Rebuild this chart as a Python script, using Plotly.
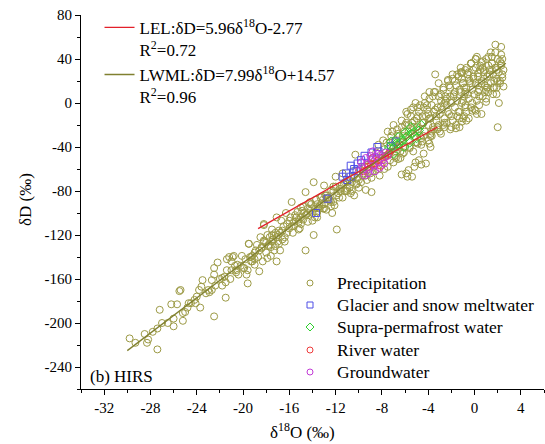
import plotly.graph_objects as go

# ---------------- data ----------------
precip_x = [
    -29.8, -28.2, -28.3, -27.4, -27.4, -27.2, -26.0, -26.2, -25.7, -25.2,
    -25.2, -24.8, -24.7, -25.4, -25.5, -24.2, -24.1, -23.8, -23.6, -23.5,
    -23.2, -22.9, -22.7, -22.5, -21.5, -22.7, -22.5, -22.5, -22.2, -21.8,
    -21.5, -21.4, -21.4, -21.0, -20.9, -20.6, -20.5, -20.1, -19.7, -19.6,
    -19.6, -19.5, -19.3, -19.2, -19.0, -18.9, -18.6, -18.4, -18.2, -18.0,
    -17.8, -17.6, -17.5, -17.3, -17.1, -18.2, -21.2, -20.8, -19.5, -18.8,
    -18.5, -18.0, -17.7, -17.4, -17.2, -16.9, -17.9, -18.3, -16.8, -17.0,
    -18.2, -17.9, -17.5, -17.1, -17.1, -16.7, -16.5, -16.3, -15.8, -16.0,
    -15.4, -15.2, -15.0, -14.6, -14.7, -14.6, -14.3, -14.0, -13.9, -13.9,
    -13.7, -13.6, -13.4, -13.2, -13.0, -12.8, -12.6, -12.4, -12.3, -12.0,
    -12.1, -11.9, -11.7, -11.5, -11.4, -11.1, -11.0, -10.7, -10.4, -10.3,
    -10.2, -15.5, -15.2, -14.9, -14.4, -14.1, -13.5, -13.1, -12.7, -12.2,
    -16.6, -16.2, -15.9, -15.6, -15.3, -15.0, -14.8, -14.5, -14.2, -13.8,
    -13.3, -13.0, -12.9, -12.5, -12.2, -11.9, -11.6, -11.3, -11.0, -10.8,
    -10.6, -10.5, -10.1, -9.9, -9.7, -9.5, -9.3, -9.0, -8.8, -8.6,
    -3.9, -3.8, -4.4, -4.8, -4.2, -4.6, -5.1, -5.2, -5.7, -5.9,
    -6.3, -5.8, -5.4, -10.0, -9.4, -8.9, -10.8, -7.5, -7.0, -6.6,
    -8.2, -7.8, -7.3, -6.9, -6.4, -6.1, -5.6, -5.3, -4.9, -4.5,
    1.8, 2.3, 1.8, -0.3, 0.1, 0.6, -3.4, -1.2, -1.1, 1.2,
    1.9, 2.4, 2.5, 2.1, 2.0, 1.0, 0.6, 0.1, -0.2, -0.7,
    -1.1, -1.3, -1.6, -2.6, 2.2, 1.5, 0.8, 0.3, -0.5, -1.0,
    -8.5, -8.3, -8.0, -7.8, -7.6, -7.4, -7.2, -7.0, -6.8, -6.6,
    -6.5, -6.3, -6.2, -6.0, -5.9, -5.7, -5.6, -5.5, -5.3, -5.2,
    -5.0, -4.9, -4.8, -4.7, -4.5, -4.4, -4.3, -4.2, -4.0, -3.9,
    -3.8, -3.7, -3.6, -3.5, -3.4, -3.3, -3.2, -3.1, -3.0, -2.9,
    -2.8, -2.7, -2.6, -2.5, -2.4, -2.3, -2.2, -2.1, -2.0, -1.9,
    -1.8, -1.7, -1.6, -1.5, -1.4, -1.3, -1.2, -1.1, -1.0, -0.9,
    -0.8, -0.7, -0.6, -0.5, -0.4, -0.3, -0.2, -0.1, 0.0, 0.1,
    0.2, 0.3, 0.4, 0.5, 0.6, 0.7, 0.8, 0.9, 1.0, 1.1,
    1.2, 1.3, 1.4, 1.5, 1.6, 1.7, 1.8, 1.9, 2.0, 2.1,
    2.2, 2.3, 2.4, 2.5, -2.0, -1.0, 0.0, 1.0, -3.0, -4.0,
    -7.9, -7.1, -6.4, -5.8, -5.1, -4.6, -4.1, -3.6, -3.2, -2.7,
    -2.3, -1.9, -1.5, -1.1, -0.7, -0.3, 0.2, 0.7, 1.2, 1.7,
    -6.9, -6.1, -5.4, -4.9, -4.3, -3.7, -3.1, -2.6, -2.1, -1.6,
    -1.2, -0.6, -0.1, 0.4, 0.9, 1.4, 1.9, 2.4, 0.2, -0.8,
    -20.2, -19.8, -19.4, -19.0, -18.6, -18.2, -17.8, -17.4, -17.0, -16.6,
    -16.2, -15.8, -15.4, -15.0, -14.6, -14.2, -13.8, -13.4, -13.0, -12.6,
    -12.2, -11.8, -11.4, -11.0, -10.6, -10.2, -9.8, -9.4, -9.0, -8.7,
    -23.0, -22.0, -21.0, -20.0, -19.0, -24.5, -26.5, -28.5, -29.3, -27.0,
    -7.7, -7.3, -6.7, -6.2, -5.5, -5.0, -4.4, -3.9, -3.4, -2.9,
    -2.4, -1.8, -1.3, -0.8, -0.4, 0.3, 0.8, 1.3, 1.8, 2.3,
    -6.0, -5.2, -4.6, -4.0, -3.5, -2.9, -2.4, -1.7, -1.0, -0.5,
    0.1, 0.6, 1.1, 1.6, 2.0, -3.8, -2.2, -0.9, 0.5, 1.5,
    -16.4, -15.1, -13.6, -12.4, -11.2, -10.0, -9.6, -9.2, -8.9, -8.4,
    -21.8, -20.6, -19.9, -19.2, -18.7, -17.6, -16.9, -15.7, -14.4, -13.1,
    -7.5, -7.0, -6.7, -6.3, -5.9, -5.5, -5.1, -4.7, -4.3, -3.9,
    -3.5, -3.1, -2.7, -2.3, -1.9, -1.5, -1.1, -0.7, -0.3, 0.1,
    -6.8, -6.2, -5.6, -5.0, -4.4, -3.8, -3.2, -2.6, -2.0, -1.4,
    -0.8, -0.2, 0.4, 1.0, 1.6, 2.2, -7.3, -6.5, -5.7, -4.9,
    -4.1, -3.3, -2.5, -1.7, -0.9, -0.1, 0.7, 1.5, 2.3, -5.3,
    -4.5, -3.7, -2.9, -2.1, -1.3, -0.5, 0.3, 1.1, 1.9, -6.6,
    -17.5, -16.8, -16.0, -15.2, -14.4, -13.6, -12.8, -12.0, -11.2, -10.4,
    -19.3, -18.4, -17.2, -16.4, -15.6, -14.8, -14.0, -13.2, -12.4, -11.6,
    -22.4, -21.6, -20.7, -20.4, -24.0, -25.0, -26.0, -27.8, -23.7, -21.1,
]
precip_y = [
    -214, -215, -218, -224, -205, -188, -203, -183, -183, -198,
    -191, -186, -182, -170, -171, -179, -182, -170, -167, -161,
    -173, -172, -170, -194, -177, -161, -156, -150, -145, -159,
    -163, -152, -142, -144, -140, -152, -147, -139, -156, -164,
    -152, -128, -144, -139, -147, -134, -153, -131, -125, -136,
    -129, -139, -120, -134, -144, -111, -140, -139, -128, -129,
    -122, -127, -122, -124, -118, -116, -141, -144, -134, -126,
    -110, -120, -115, -122, -104, -107, -112, -100, -90, -107,
    -104, -115, -95, -134, -100, -81, -91, -107, -120, -72,
    -88, -104, -96, -85, -75, -97, -88, -79, -100, -67,
    -93, -115, -86, -75, -64, -80, -71, -82, -84, -47,
    -73, -102, -106, -98, -100, -92, -95, -88, -86, -80,
    -116, -110, -104, -108, -99, -104, -94, -101, -90, -96,
    -86, -92, -84, -88, -76, -84, -78, -74, -80, -70,
    -72, -62, -68, -60, -66, -58, -70, -55, -62, -52,
    -37, -40, -46, -52, -55, -56, -54, -58, -61, -64,
    -65, -67, -67, -77, -79, -81, -77, -58, -54, -51,
    -66, -60, -52, -48, -50, -45, -41, -44, -37, -35,
    53, 51, 46, 36, 40, 37, 26, 32, 27, 34,
    30, 23, 15, 0, -22, 1, -10, -7, -7, -8,
    -17, -22, -23, -22, 38, 42, 30, 27, 22, 18,
    -45, -38, -52, -42, -36, -47, -30, -40, -44, -28,
    -38, -22, -30, -40, -18, -26, -34, -12, -22, -30,
    -14, -24, -8, -30, -18, -4, -26, -12, -20, 4,
    -14, -2, -22, -8, 10, -16, -4, 18, -10, 2,
    -6, 12, -14, 6, -2, 21, -10, 14, 0, -16,
    8, -4, 16, 2, 24, -8, 10, 0, 18, 6,
    -2, 14, 26, 4, 20, -4, 12, 30, 8, 18,
    2, 24, 12, 34, 20, 6, 28, 16, 40, 24,
    10, 30, 18, 36, 26, 14, 32, 22, 40, 28,
    18, 34, 26, 30, -22, -14, -6, 4, -26, -34,
    -34, -26, -44, -10, -36, -38, -2, 6, -22, -20,
    -8, 26, -12, 22, -16, 36, -10, 38, 42, 20,
    -34, -26, -18, -4, 0, -26, -20, 0, 6, -20,
    28, 8, 22, -2, 10, 46, 14, 40, 42, 30,
    -148, -142, -140, -136, -134, -126, -130, -124, -120, -124,
    -118, -112, -104, -110, -102, -98, -104, -94, -96, -86,
    -90, -82, -86, -78, -80, -74, -72, -66, -64, -58,
    -170, -160, -152, -150, -142, -182, -200, -210, -218, -200,
    -48, -44, -38, -35, -28, -22, -18, -14, -6, -3,
    4, 6, 12, 10, 18, 16, 22, 26, 32, 36,
    -20, -16, -32, -10, -24, 8, -18, 20, 2, 28,
    32, 18, 14, 8, 20, -30, 16, -12, 30, 36,
    -126, -114, -100, -94, -80, -70, -64, -56, -68, -60,
    -166, -154, -150, -144, -140, -131, -128, -118, -108, -96,
    -26, -20, -24, -16, -8, -6, 0, -2, 6, 10,
    10, 6, 14, 20, 22, 26, 28, 32, 36, 40,
    -50, -46, -40, -36, -30, -28, -24, -18, -12, -8,
    -4, 0, 6, 12, 14, 20, -36, -30, -20, -12,
    -6, -12, 2, 10, 14, 24, 32, 30, 44, -4,
    -12, -30, -28, -24, -14, -14, 10, 14, 8, -40,
    -126, -118, -114, -108, -96, -92, -84, -76, -72, -66,
    -140, -132, -130, -122, -112, -106, -100, -92, -90, -80,
    -166, -158, -148, -156, -176, -190, -196, -208, -186, -160,
]

glacier_x = [-13.7, -12.7, -11.4, -11.1, -10.7, -10.7, -10.4, -10.1, -9.8,
             -9.5, -8.9, -8.4, -8.3, -7.2, -6.8, -11.0, -10.2]
glacier_y = [-100, -87, -67, -64, -67, -57, -60, -55, -52,
             -48, -45, -40, -44, -39, -35, -70, -62]

supra_x = [-7.6, -7.4, -7.2, -7.0, -6.8, -6.5, -6.3, -6.1, -5.9, -5.8,
           -5.6, -5.4, -5.2, -5.0, -4.8, -6.6, -6.0, -5.5, -7.0, -4.6]
supra_y = [-44, -40, -35, -41, -37, -37, -34, -40, -31, -30,
           -36, -28, -26, -32, -25, -31, -27, -22, -46, -20]

river_x = [-9.6, -9.2, -8.9, -8.6, -8.3, -8.0, -7.7, -7.4, -8.8, -8.1]
river_y = [-62, -58, -56, -55, -52, -50, -49, -46, -50, -57]

ground_x = [-10.0, -9.7, -9.5, -9.3, -9.1, -8.9, -8.7, -8.5, -8.3, -8.1, -7.9,
            -7.7, -9.4, -9.0, -8.6, -8.2, -7.8, -9.8, -8.8, -8.4, -7.5, -9.2]
ground_y = [-62, -58, -66, -55, -60, -52, -57, -49, -54, -47, -52,
            -45, -50, -48, -62, -59, -55, -54, -44, -46, -48, -64]

lel_x = [-18.7, -3.2]
lel_y = [-114.2, -21.8]
lwml_x = [-30.0, 2.7]
lwml_y = [-225.1, 36.1]

x_ticks = [-32, -28, -24, -20, -16, -12, -8, -4, 0, 4]
x_tick_labels = ["-32", "-28", "-24", "-20", "-16", "-12", "-8", "-4", "0", "4"]
y_ticks = [-240, -200, -160, -120, -80, -40, 0, 40, 80]
y_tick_labels = ["-240", "-200", "-160", "-120", "-80", "-40", "0", "40", "80"]

series_names = ["Precipitation", "Glacier and snow meltwater",
                "Supra-permafrost water", "River water", "Groundwater"]
series_colors = ["#9c9a45", "#4f4fe6", "#2fd02f", "#ee3b3b", "#c23ad6"]
series_symbols = ["circle-open", "square-open", "diamond-open",
                  "circle-open", "circle-open"]

# ---------------- figure ----------------
FONT = "Liberation Serif"
W, H = 545, 444
ML, MR, MT, MB = 81, 1, 15, 55
PW, PH = W - ML - MR, H - MT - MB


def fx(px):
    return (px - ML) / PW


def fy(py):
    return (H - MB - py) / PH


fig = go.Figure()
series = [(precip_x, precip_y), (glacier_x, glacier_y), (supra_x, supra_y),
          (river_x, river_y), (ground_x, ground_y)]
for (sx, sy), nm, col, sym in zip(series, series_names, series_colors,
                                   series_symbols):
    fig.add_trace(go.Scatter(
        x=sx, y=sy, mode="markers", name=nm, showlegend=False,
        marker=dict(symbol=sym, size=7, color=col,
                    line=dict(width=1, color=col)),
    ))

fig.add_trace(go.Scatter(
    x=lel_x, y=lel_y, mode="lines",
    name="LEL:δD=5.96δ<sup>18</sup>O-2.77<br>R<sup>2</sup>=0.72",
    line=dict(color="#e3202a", width=1.3),
))
fig.add_trace(go.Scatter(
    x=lwml_x, y=lwml_y, mode="lines",
    name="LWML:δD=7.99δ<sup>18</sup>O+14.57<br>R<sup>2</sup>=0.96",
    line=dict(color="#808030", width=1.3),
))

# custom legend for the sample series (bottom right)
row_y = [283, 305, 327, 350, 372]
sym_x = 310
shapes = []
annotations = []
r = 3
for nm, col, sym, yy in zip(series_names, series_colors, series_symbols, row_y):
    if sym == "circle-open":
        shapes.append(dict(type="circle", xref="paper", yref="paper",
                           x0=fx(sym_x - r), x1=fx(sym_x + r),
                           y0=fy(yy + r), y1=fy(yy - r),
                           line=dict(color=col, width=1)))
    elif sym == "square-open":
        shapes.append(dict(type="rect", xref="paper", yref="paper",
                           x0=fx(sym_x - r), x1=fx(sym_x + r),
                           y0=fy(yy + r), y1=fy(yy - r),
                           line=dict(color=col, width=1)))
    else:
        d = r + 1
        path = (f"M {fx(sym_x)},{fy(yy - d)} L {fx(sym_x + d)},{fy(yy)} "
                f"L {fx(sym_x)},{fy(yy + d)} L {fx(sym_x - d)},{fy(yy)} Z")
        shapes.append(dict(type="path", xref="paper", yref="paper",
                           path=path, line=dict(color=col, width=1)))
    annotations.append(dict(text=nm, xref="paper", yref="paper",
                            x=fx(335), y=fy(yy), xanchor="left",
                            yanchor="middle", showarrow=False,
                            font=dict(family=FONT, size=17.5, color="black")))

annotations += [
    dict(text="δ<sup>18</sup>O (‰)", xref="paper", yref="paper",
         x=fx(302), y=fy(431), xanchor="center", yanchor="middle",
         showarrow=False, font=dict(family=FONT, size=17, color="black")),
    dict(text="δD (‰)", xref="paper", yref="paper", textangle=-90,
         x=fx(25), y=fy(200), xanchor="center", yanchor="middle",
         showarrow=False, font=dict(family=FONT, size=17, color="black")),
    dict(text="(b) HIRS", xref="paper", yref="paper",
         x=fx(88), y=fy(376), xanchor="left", yanchor="middle",
         showarrow=False, font=dict(family=FONT, size=17, color="black")),
]

axis_common = dict(ticks="outside", ticklen=5, tickwidth=1, tickcolor="black",
                   showline=True, linecolor="black", linewidth=1,
                   showgrid=False, zeroline=False, automargin=False,
                   tickfont=dict(family=FONT, size=15, color="black"))

fig.update_layout(
    width=W, height=H,
    margin=dict(l=ML, r=MR, t=MT, b=MB, autoexpand=False),
    paper_bgcolor="white", plot_bgcolor="white",
    font=dict(family=FONT, size=16, color="black"),
    showlegend=True,
    legend=dict(x=0.04, y=1.014, xanchor="left", yanchor="top",
                bgcolor="rgba(0,0,0,0)", valign="top",
                font=dict(family=FONT, size=17, color="black"),
                tracegroupgap=0),
    xaxis=dict(range=[-34, 6], tickvals=x_ticks, ticktext=x_tick_labels,
               minor=dict(dtick=2, tick0=0, ticks="outside", ticklen=3,
                          tickcolor="black", showgrid=False),
               **axis_common),
    yaxis=dict(range=[-260, 80], tickvals=y_ticks, ticktext=y_tick_labels,
               minor=dict(dtick=20, tick0=0, ticks="outside", ticklen=3,
                          tickcolor="black", showgrid=False),
               **axis_common),
    shapes=shapes,
    annotations=annotations,
)

fig.write_html("out.html",
               config={"displayModeBar": False},
               post_script="document.body.style.margin='0';"
                           "document.body.style.padding='0';")
